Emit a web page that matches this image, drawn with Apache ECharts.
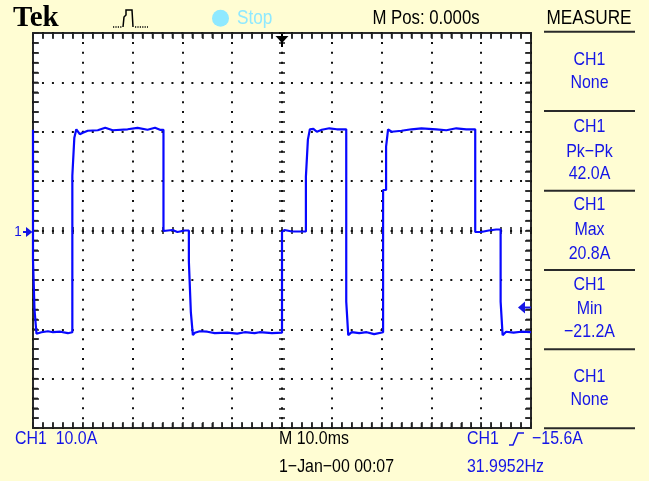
<!DOCTYPE html>
<html><head><meta charset="utf-8">
<script src="https://cdn.jsdelivr.net/npm/echarts@6/dist/echarts.min.js"></script>
<style>html,body{margin:0;padding:0;background:#FFFDD3;}#c{width:649px;height:481px;}</style>
</head><body><div id="c"></div>
<script>
// ---- data (time in ms, current in A) ----
const timeMs = [
  -50.0,-50.0,-49.7,-49.7,-49.3,-49.3,-48.9,-48.3,-47.0,-46.0,-44.5,-43.0,-42.1,
  -42.1,-41.7,-41.7,-41.3,-41.3,-40.6,-40.0,-39.0,-37.0,-35.5,-34.0,-31.0,-29.0,-27.0,-25.5,-24.5,-23.8,
  -23.8,-22.0,-21.0,-19.5,-18.7,-18.7,-18.3,-18.3,-17.9,-17.9,-17.5,-16.5,-15.0,-13.5,-11.0,-9.0,-7.5,-5.5,-4.5,-2.0,0.0,
  0.0,0.5,2.0,4.8,4.8,5.2,5.2,5.6,5.6,6.3,7.0,8.0,9.5,11.0,12.9,
  12.9,13.3,13.3,14.0,15.5,17.0,18.5,20.3,
  20.3,20.9,20.9,21.3,21.3,22.0,24.0,26.0,28.0,31.0,33.0,35.0,37.0,38.8,
  38.8,40.0,41.5,43.0,43.9,43.9,44.3,44.3,45.0,46.5,48.0,50.0
];
const currentA = [
  20.4,-5.9,-5.9,-16.0,-16.0,-20.9,-21.2,-20.6,-20.4,-20.6,-20.5,-20.8,-20.6,
  11.1,11.1,18.8,18.8,20.5,19.5,19.8,20.2,20.3,20.8,20.3,20.5,20.8,20.4,20.8,20.4,20.4,
  -0.1,0.1,-0.3,0.0,0.0,-6.3,-6.3,-16.6,-16.6,-21.2,-20.7,-20.4,-20.5,-20.8,-20.7,-20.9,-20.6,-20.8,-20.6,-20.8,-20.7,
  -0.3,0.1,-0.2,-0.2,10.9,10.9,18.4,18.4,20.5,20.6,20.0,20.4,20.7,20.5,20.5,
  -14.4,-14.4,-21.2,-20.6,-20.8,-20.6,-21.0,-20.6,
  8.2,8.2,17.0,17.0,20.5,20.0,20.2,20.5,20.7,20.5,20.3,20.7,20.5,20.5,
  -0.3,-0.3,0.0,0.2,0.2,-14.4,-14.4,-21.2,-20.5,-20.7,-20.5,-20.6
];
const xRange = [-50, 50];      // 10 ms/div, 10 divisions
const yRange = [-40, 40];      // 10 A/div, 8 divisions
const divX = 10, divY = 10;
const minorPerDiv = 5;
const triggerLevelA = -15.6;
const triggerTimeMs = 0;
const channelZeroA = 0;

const headerTexts = { brand: 'Tek', state: 'Stop', mpos: 'M Pos: 0.000s', menu: 'MEASURE' };
const measureBlocks = [
  ['CH1', 'None'],
  ['CH1', 'Pk\u2212Pk', '42.0A'],
  ['CH1', 'Max', '20.8A'],
  ['CH1', 'Min', '\u221221.2A'],
  ['CH1', 'None']
];
const footerTexts = {
  scale: 'CH1  10.0A', time: 'M 10.0ms', trigCh: 'CH1', trigLvl: '\u221215.6A',
  date: '1\u2212Jan\u221200 00:07', freq: '31.9952Hz'
};

// ---- chart ----
const BLUE = '#1414E6', TRACE = '#0808FF', CYAN = '#8FE9FF', DARK = '#2a2a2a';
const FONT = '"Liberation Sans", Arial, sans-serif';
const G = { left: 33, top: 33, width: 498, height: 395 };

const chart = echarts.init(document.getElementById('c'));

function tickAxis(extra) {
  return Object.assign({
    type: 'value', axisLine: { show: false, onZero: false }, axisLabel: { show: false },
    splitLine: { show: false },
    axisTick: { show: true, inside: true, length: 6, lineStyle: { color: '#222', width: 1.5 } },
    minorTick: { show: true, splitNumber: minorPerDiv, length: 6, lineStyle: { color: '#222', width: 1.5 } }
  }, extra);
}
function centerTicks(len) {
  return {
    axisTick: { show: true, inside: true, length: len, lineStyle: { color: '#111', width: 1.5 } },
    minorTick: { show: true, splitNumber: minorPerDiv, length: len, lineStyle: { color: '#111', width: 1.5 } }
  };
}
const xBase = { min: xRange[0], max: xRange[1], interval: divX };
const yBase = { min: yRange[0], max: yRange[1], interval: divY };
const nMinX = (xRange[1] - xRange[0]) / divX * minorPerDiv;
const nMinY = (yRange[1] - yRange[0]) / divY * minorPerDiv;
const perX = G.width / nMinX, perY = G.height / nMinY;

// linear mapping identical to the value axes (used only for overlay markers)
const toPxX = v => G.left + (v - xRange[0]) / (xRange[1] - xRange[0]) * G.width;
const toPxY = v => G.top + (yRange[1] - v) / (yRange[1] - yRange[0]) * G.height;

// ---- overlay text / markers ----
function txt(str, x, y, o) {
  o = o || {};
  return { type: 'text', x: x, y: y, scaleX: o.sx || 0.86, silent: true, z: 20,
    style: { text: str, fill: o.fill || BLUE, font: (o.weight || 'normal') + ' ' + (o.size || 18.5) + 'px ' + (o.family || FONT),
             align: o.align || 'left', verticalAlign: 'middle' } };
}
function seg(x1, y1, x2, y2, w, c) {
  return { type: 'line', silent: true, z: 20, shape: { x1: x1, y1: y1, x2: x2, y2: y2 }, style: { stroke: c || DARK, lineWidth: w || 2 } };
}
const px0 = toPxX(triggerTimeMs);
const py0 = toPxY(channelZeroA);
const pyT = toPxY(triggerLevelA);
const rightX = G.left + G.width, bottomY = G.top + G.height;

const g = [];
// border ruler ticks (every minor division of the axes)
const TL = 5;
for (let k = 0; k <= nMinX; k++) {
  const x = toPxX(xRange[0] + k * divX / minorPerDiv);
  g.push(seg(x, G.top, x, G.top + TL, 1.5, '#222'));
  g.push(seg(x, bottomY - TL, x, bottomY, 1.5, '#222'));
}
for (let k = 0; k <= nMinY; k++) {
  const y = toPxY(yRange[0] + k * divY / minorPerDiv);
  g.push(seg(G.left, y, G.left + TL, y, 1.5, '#222'));
  g.push(seg(rightX - TL, y, rightX, y, 1.5, '#222'));
}
// header
g.push(txt(headerTexts.brand, 13, 19, { fill: '#000', weight: 'bold', size: 29, family: '"Liberation Serif", "Times New Roman", serif', sx: 1 }));
g.push({ type: 'polyline', silent: true, z: 20, shape: { points: [[123, 27], [124, 17], [126, 15], [126, 10], [132, 10], [133, 27]] },
         style: { stroke: '#000', lineWidth: 1.5, fill: null } });
g.push({ type: 'line', silent: true, z: 20, shape: { x1: 113, y1: 27, x2: 122, y2: 27 }, style: { stroke: '#000', lineWidth: 1.5, lineDash: [1.2, 1.2] } });
g.push({ type: 'line', silent: true, z: 20, shape: { x1: 135, y1: 27, x2: 148, y2: 27 }, style: { stroke: '#000', lineWidth: 1.5, lineDash: [1.2, 1.2] } });
g.push({ type: 'circle', silent: true, z: 20, shape: { cx: 220.5, cy: 18.3, r: 8.5 }, style: { fill: CYAN } });
g.push(txt(headerTexts.state, 237, 18.5, { fill: CYAN, size: 20 }));
g.push(txt(headerTexts.mpos, 426, 18.5, { fill: '#000', size: 19.5, align: 'center' }));
g.push(txt(headerTexts.menu, 589, 18, { fill: '#000', size: 20, align: 'center', sx: 0.86 }));
// measure panel
const sepY = [31.7, 111, 190.7, 270, 349.3, 428.3];
sepY.forEach(y => g.push(seg(544, y, 635, y, 2, DARK)));
const blockLineY = [[60, 82.7], [126.7, 151.7, 173.3], [205, 230, 253.3], [285, 308.3, 331.7], [376.7, 400]];
measureBlocks.forEach((blk, bi) => blk.forEach((s, li) => g.push(txt(s, 589.5, blockLineY[bi][li], { align: 'center', size: 19, sx: 0.84 }))));
// footer
g.push(txt(footerTexts.scale, 15, 439, {}));
g.push(txt(footerTexts.time, 279, 439, { fill: '#000' }));
g.push(txt(footerTexts.trigCh, 467, 439, {}));
g.push({ type: 'polyline', silent: true, z: 20, shape: { points: [[509, 445], [513, 445], [518, 433], [524, 433]] },
         style: { stroke: BLUE, lineWidth: 1.5, fill: null } });
g.push(txt(footerTexts.trigLvl, 532, 439, {}));
g.push(txt(footerTexts.date, 279, 467, { fill: '#000' }));
g.push(txt(footerTexts.freq, 467, 467, {}));
// trigger position marker
g.push({ type: 'polygon', silent: true, z: 20, shape: { points: [[px0 - 6.5, 36], [px0 + 6.5, 36], [px0, 43]] }, style: { fill: '#000' } });
g.push(seg(px0, 34, px0, 47, 2, '#000'));
// channel 1 ground marker
g.push(txt('1', 18, py0 + 1.5, { size: 15, align: 'center', sx: 0.9 }));
g.push({ type: 'polygon', silent: true, z: 20, shape: { points: [[26, py0 - 3.5], [32.5, py0 + 1.5], [26, py0 + 6.5]] }, style: { fill: BLUE } });
g.push(seg(23, py0 + 1.5, 28, py0 + 1.5, 2, BLUE));
// trigger level marker
g.push({ type: 'polygon', silent: true, z: 20, shape: { points: [[rightX - 13, pyT], [rightX - 6, pyT - 6], [rightX - 6, pyT + 6]] }, style: { fill: BLUE } });
g.push(seg(rightX - 8, pyT, rightX, pyT, 2, BLUE));

const option = {
  animation: false,
  grid: { left: G.left, top: G.top, width: G.width, height: G.height, show: true,
          backgroundColor: '#FFFFFF', borderColor: DARK, borderWidth: 2 },
  xAxis: [
    tickAxis(Object.assign({ position: 'bottom',
      splitLine: { show: true, lineStyle: { color: '#111', width: 2, type: [2, perY - 2], dashOffset: 1 } } }, xBase)),
    tickAxis(Object.assign({ position: 'top' }, xBase)),
    tickAxis(Object.assign({ position: 'bottom', offset: -G.height / 2 + 3.5 }, centerTicks(7), xBase))
  ],
  yAxis: [
    tickAxis(Object.assign({ position: 'left',
      splitLine: { show: true, lineStyle: { color: '#111', width: 2, type: [2, perX - 2], dashOffset: 1 } } }, yBase)),
    tickAxis(Object.assign({ position: 'right' }, yBase)),
    tickAxis(Object.assign({ position: 'left', offset: -G.width / 2 + 3 }, centerTicks(6), yBase))
  ],
  series: [{
    type: 'line', xAxisIndex: 0, yAxisIndex: 0, showSymbol: false, symbol: 'none', z: 30,
    lineStyle: { color: TRACE, width: 2.2 },
    data: timeMs.map((t, i) => [t, currentA[i]])
  }],
  graphic: { elements: g }
};
chart.setOption(option);
</script></body></html>
